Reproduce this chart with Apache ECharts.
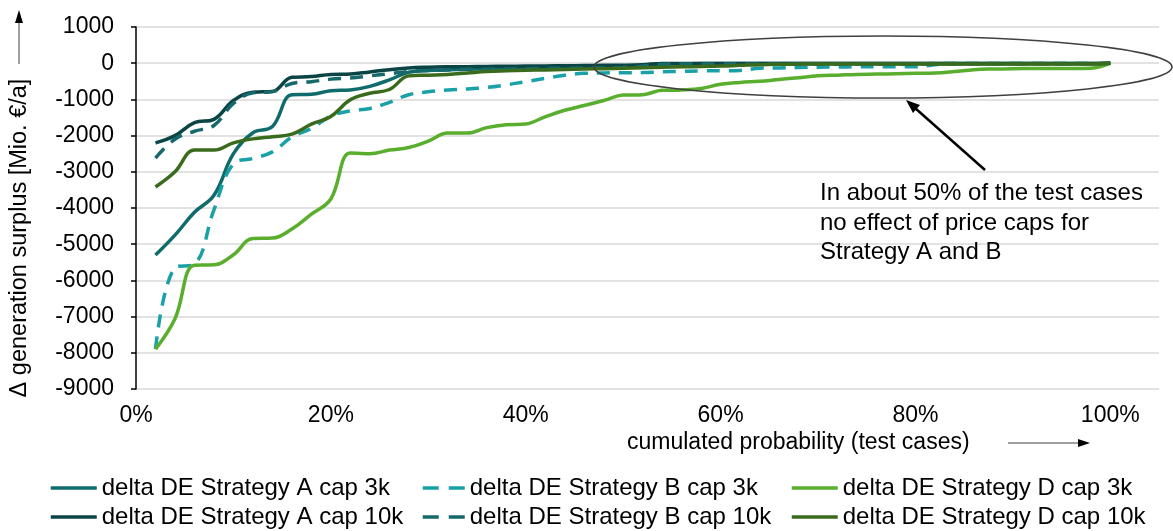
<!DOCTYPE html>
<html>
<head>
<meta charset="utf-8">
<script src="https://cdn.jsdelivr.net/npm/echarts@6/dist/echarts.min.js"></script>
<style>
    html, body { margin: 0; padding: 0; background: #fff; }
    #chart { width: 1173px; height: 531px; }
</style>
</head>
<body>
<div id="chart"></div>
<script>
// cumulated probability of the 50 test cases
const prob = [0.02, 0.04, 0.06, 0.08, 0.10, 0.12, 0.14, 0.16, 0.18, 0.20,
    0.22, 0.24, 0.26, 0.28, 0.30, 0.32, 0.34, 0.36, 0.38, 0.40,
    0.42, 0.44, 0.46, 0.48, 0.50, 0.52, 0.54, 0.56, 0.58, 0.60,
    0.62, 0.64, 0.66, 0.68, 0.70, 0.72, 0.74, 0.76, 0.78, 0.80,
    0.82, 0.84, 0.86, 0.88, 0.90, 0.92, 0.94, 0.96, 0.98, 1.00]

const aCap3k = [-5300, -4750, -4120, -3650, -2500, -1920, -1750, -870, -860, -760,
    -740, -640, -460, -250, -200, -180, -165, -150, -140, -130,
    -125, -120, -115, -110, -100, -80, -20, -15, -10, -10,
    -10, -10, -10, -10, -10, -10, -10, -10, -10, -10,
    -5, -5, -5, -5, -5, -5, -5, -5, -5, 0]
const aCap10k = [-2200, -2000, -1640, -1550, -1030, -800, -780, -390, -370, -310,
    -300, -240, -180, -130, -110, -100, -95, -90, -85, -80,
    -75, -70, -65, -60, -55, -40, -5, -5, -5, -5,
    -5, -5, -5, -5, -5, -5, -5, -5, -5, -5,
    -5, -5, -5, -5, -5, -5, -5, -5, -5, 0]
const bCap3k = [-7900, -5650, -5550, -4050, -2780, -2630, -2450, -2040, -1800, -1460,
    -1320, -1250, -1080, -870, -790, -740, -710, -670, -600, -510,
    -420, -330, -280, -268, -265, -260, -240, -225, -212, -212,
    -200, -140, -130, -120, -110, -105, -100, -100, -100, -100,
    -40, -20, -15, -15, -15, -15, -15, -15, -15, 0]
const bCap10k = [-2620, -2100, -1880, -1720, -1110, -820, -785, -560, -510, -440,
    -410, -350, -290, -230, -200, -185, -170, -165, -160, -150,
    -145, -140, -135, -130, -120, -80, -30, -20, -20, -20,
    -20, -20, -20, -20, -20, -20, -20, -20, -20, -20,
    -10, -10, -10, -10, -10, -10, -10, -10, -10, 0]
const dCap3k = [-7900, -7060, -5580, -5570, -5290, -4840, -4830, -4580, -4170, -3750,
    -2480, -2500, -2400, -2330, -2150, -1930, -1930, -1780, -1700, -1680,
    -1480, -1300, -1170, -1030, -880, -870, -750, -740, -700, -580,
    -530, -500, -450, -400, -350, -330, -310, -300, -290, -280,
    -270, -230, -180, -160, -150, -147, -145, -145, -140, 0]
const dCap10k = [-3420, -3000, -2400, -2400, -2200, -2090, -2030, -1960, -1685, -1470,
    -1010, -830, -727, -350, -330, -310, -270, -230, -210, -195,
    -185, -175, -160, -150, -140, -125, -110, -100, -90, -80,
    -60, -40, -30, -25, -20, -20, -20, -20, -20, -20,
    -20, -20, -20, -20, -20, -20, -20, -20, -20, 0]

const names = ['delta DE Strategy A cap 3k', 'delta DE Strategy B cap 3k', 'delta DE Strategy D cap 3k',
    'delta DE Strategy A cap 10k', 'delta DE Strategy B cap 10k', 'delta DE Strategy D cap 10k']
const values = [aCap3k, bCap3k, dCap3k, aCap10k, bCap10k, dCap10k]
const colors = ['#0f6b6c', '#1aa1a8', '#5aae2e', '#0b4445', '#16696a', '#3a6b1d']
const dashed = [false, true, false, false, true, false]

const font = '"Liberation Sans", Arial, sans-serif'

let series = names.map((name, i) => ({
    name: name,
    type: 'line',
    smooth: 0.4,
    symbol: 'none',
    data: prob.map((p, k) => [p, values[i][k]]),
    lineStyle: {
        color: colors[i],
        width: 3.5,
        type: dashed[i] ? [13, 9] : 'solid'
    },
    itemStyle: { color: colors[i] },
    emphasis: { disabled: true }
}))

// one legend per item, laid out as 3 columns x 2 rows
let legendLeft = [49, 421, 790]
let legendWidth = [46, 42, 46]
let legendTop = [476, 505]
let legends = names.map((name, i) => ({
    left: legendLeft[i % 3],
    top: legendTop[Math.floor(i / 3)],
    itemWidth: legendWidth[i % 3],
    itemHeight: 2,
    itemStyle: { opacity: 0 },
    lineStyle: {
        width: 3.5,
        type: dashed[i] ? [16, 10] : 'solid'
    },
    data: [name],
    selectedMode: false,
    padding: 0,
    textStyle: { color: '#000', fontSize: 24, fontFamily: font }
}))

let option = {
    animation: false,
    color: colors,
    grid: {
        left: 136,
        right: 14,
        top: 27,
        bottom: 142,
        outerBoundsMode: 'none'
    },
    legend: legends,
    xAxis: {
        type: 'value',
        min: 0,
        max: 1.05,
        interval: 0.2,
        axisLine: { show: false },
        axisTick: { show: false },
        splitLine: { show: false },
        axisLabel: {
            color: '#000',
            fontSize: 23,
            fontFamily: font,
            margin: 15,
            formatter: function(v) {
                return v <= 1.0001 ? Math.round(v * 100) + '%' : ''
            }
        }
    },
    yAxis: {
        type: 'value',
        min: -9000,
        max: 1000,
        interval: 1000,
        axisLine: { show: true, lineStyle: { color: '#000', width: 1.5 } },
        axisTick: { show: true, length: 5, lineStyle: { color: '#000', width: 1.5 } },
        axisLabel: {
            color: '#000',
            fontSize: 23,
            fontFamily: font,
            margin: 22,
            formatter: function(v) {
                return String(v)
            }
        },
        splitLine: { lineStyle: { color: '#d9d9d9', width: 1.5 } }
    },
    graphic: [
        // annotation ellipse + arrow
        {
            type: 'ellipse',
            shape: { cx: 883, cy: 67, rx: 289, ry: 31 },
            style: { fill: 'none', stroke: '#404040', lineWidth: 1.5 },
            z: 100
        },
        {
            type: 'line',
            shape: { x1: 985, y1: 170, x2: 915, y2: 108 },
            style: { stroke: '#000', lineWidth: 2.5 },
            z: 100
        },
        {
            type: 'polygon',
            shape: { points: [[906, 100], [920, 105], [913, 113]] },
            style: { fill: '#000' },
            z: 100
        },
        {
            type: 'text',
            x: 820,
            y: 179,
            style: {
                text: 'In about 50% of the test cases\nno effect of price caps for\nStrategy A and B',
                font: '24px ' + font,
                fill: '#000',
                lineHeight: 29.5
            },
            z: 100
        },
        // x axis title with arrow
        {
            type: 'text',
            x: 627,
            y: 443,
            style: {
                text: 'cumulated probability (test cases)',
                font: '23px ' + font,
                fill: '#000',
                verticalAlign: 'middle',
                textVerticalAlign: 'middle'
            }
        },
        {
            type: 'line',
            shape: { x1: 1008, y1: 443, x2: 1080, y2: 443 },
            style: { stroke: '#404040', lineWidth: 1 }
        },
        {
            type: 'polygon',
            shape: { points: [[1090, 443], [1078, 439], [1078, 447]] },
            style: { fill: '#000' }
        },
        // y axis title with arrow
        {
            type: 'text',
            x: 20,
            y: 238,
            rotation: Math.PI / 2,
            style: {
                text: 'Δ generation surplus [Mio. €/a]',
                font: '23.5px ' + font,
                fill: '#000',
                align: 'center',
                textAlign: 'center',
                verticalAlign: 'middle',
                textVerticalAlign: 'middle'
            }
        },
        {
            type: 'line',
            shape: { x1: 19, y1: 64, x2: 19, y2: 22 },
            style: { stroke: '#404040', lineWidth: 1 }
        },
        {
            type: 'polygon',
            shape: { points: [[19, 10], [15, 23], [23, 23]] },
            style: { fill: '#000' }
        }
    ],
    series: series
}

var myChart = echarts.init(document.getElementById('chart'))
myChart.setOption(option)
</script>
</body>
</html>
